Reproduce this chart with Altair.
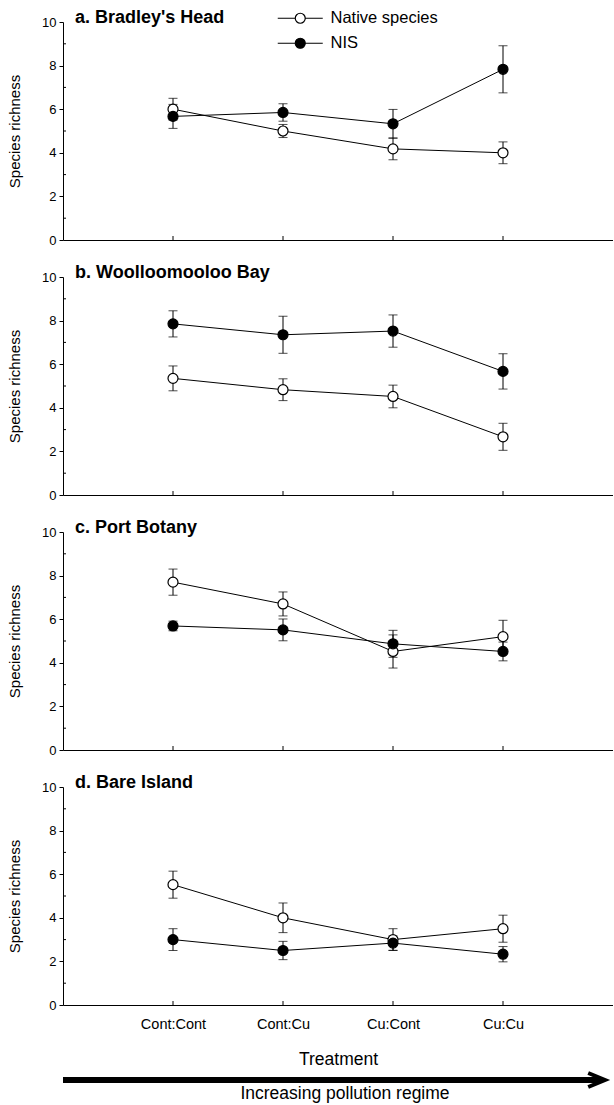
import altair as alt
import pandas as pd

treatments = ["Cont:Cont", "Cont:Cu", "Cu:Cont", "Cu:Cu"]
positions = [1, 2, 3, 4]
site_titles = ["a. Bradley's Head", "b. Woolloomooloo Bay", "c. Port Botany", "d. Bare Island"]
series_names = ["Native species", "NIS"]

# means and standard errors
native_a = [6.0, 5.0, 4.18, 4.0]
native_a_se = [0.5, 0.3, 0.5, 0.5]
nis_a = [5.67, 5.85, 5.33, 7.83]
nis_a_se = [0.55, 0.4, 0.66, 1.08]

native_b = [5.35, 4.83, 4.52, 2.67]
native_b_se = [0.57, 0.5, 0.52, 0.62]
nis_b = [7.85, 7.35, 7.52, 5.67]
nis_b_se = [0.6, 0.85, 0.74, 0.81]

native_c = [7.7, 6.7, 4.52, 5.2]
native_c_se = [0.6, 0.55, 0.76, 0.75]
nis_c = [5.69, 5.51, 4.87, 4.52]
nis_c_se = [0.22, 0.5, 0.62, 0.43]

native_d = [5.52, 4.0, 3.0, 3.5]
native_d_se = [0.62, 0.68, 0.5, 0.62]
nis_d = [3.0, 2.5, 2.84, 2.33]
nis_d_se = [0.5, 0.42, 0.33, 0.35]

major_y = [0, 2, 4, 6, 8, 10]
minor_y = [1, 3, 5, 7, 9]

panels = [
    (native_a, native_a_se, nis_a, nis_a_se),
    (native_b, native_b_se, nis_b, nis_b_se),
    (native_c, native_c_se, nis_c, nis_c_se),
    (native_d, native_d_se, nis_d, nis_d_se),
]

W = 550
H = 218
FONT = "Liberation Sans"

legend_symbol = "M-4.5,0L-1,0M1,0L4.5,0M1,0A1,1,0,1,1,-1,0A1,1,0,1,1,1,0Z"
no_view = alt.ViewBackground(stroke="transparent", strokeWidth=0)


def make_panel(i):
    nat, nat_se, nis, nis_se = panels[i]
    rows = []
    for name, means, ses in ((series_names[0], nat, nat_se), (series_names[1], nis, nis_se)):
        for p, t, m, s in zip(positions, treatments, means, ses):
            rows.append({"series": name, "pos": p, "treatment": t, "mean": m,
                         "lo": m - s, "hi": m + s})
    df = pd.DataFrame(rows)
    last = i == 3

    xaxis = alt.Axis(
        values=positions,
        labelExpr="['', 'Cont:Cont', 'Cont:Cu', 'Cu:Cont', 'Cu:Cu'][datum.value]",
        labels=last, ticks=False, tickSize=0, grid=False,
        title="Treatment" if last else None,
        labelFontSize=14.5, labelPadding=12, titleFontSize=17.5, titleFontWeight="normal",
        titlePadding=20, domainColor="black", labelColor="black", titleColor="black",
        labelFont=FONT, titleFont=FONT,
    )
    yaxis = alt.Axis(
        values=major_y, tickSize=4, grid=False, title="Species richness",
        labelFontSize=13, labelPadding=3, titleFontSize=15, titleFontWeight="normal",
        titlePadding=19, domainColor="black", tickColor="black", labelColor="black",
        titleColor="black", labelFont=FONT, titleFont=FONT,
    )
    xs = alt.Scale(domain=[0, 5], nice=False, zero=False)
    ys = alt.Scale(domain=[0, 10], nice=False)
    base = alt.Chart(df)

    bars = base.mark_rule(color="black", strokeWidth=1).encode(
        x=alt.X("pos:Q", scale=xs, axis=xaxis),
        y=alt.Y("lo:Q", scale=ys, axis=yaxis),
        y2="hi:Q",
    )
    caps_lo = base.mark_tick(color="black", orient="horizontal", size=9, thickness=1).encode(
        x=alt.X("pos:Q", scale=xs), y=alt.Y("lo:Q", scale=ys))
    caps_hi = base.mark_tick(color="black", orient="horizontal", size=9, thickness=1).encode(
        x=alt.X("pos:Q", scale=xs), y=alt.Y("hi:Q", scale=ys))
    lines = base.mark_line(color="black", strokeWidth=1).encode(
        x=alt.X("pos:Q", scale=xs), y=alt.Y("mean:Q", scale=ys), detail="series:N")
    legend = None
    if i == 0:
        legend = alt.Legend(
            title=None, orient="none", legendX=229, legendY=-12, padding=0,
            symbolType=legend_symbol, symbolSize=100, symbolStrokeColor="black",
            symbolStrokeWidth=1.2, labelOffset=22, labelFontSize=16.5, labelFont=FONT,
            labelColor="black", rowPadding=8, labelLimit=300,
        )
    points = base.mark_point(shape="circle", filled=True, size=100, stroke="black",
                             strokeWidth=1.2, opacity=1).encode(
        x=alt.X("pos:Q", scale=xs), y=alt.Y("mean:Q", scale=ys),
        fill=alt.Fill("series:N", scale=alt.Scale(domain=series_names, range=["white", "black"]),
                      legend=legend),
        order=alt.Order("order:Q"),
    ).transform_calculate(order="datum.series == 'NIS' ? 1 : 0")

    minor = alt.Chart(pd.DataFrame({"v": minor_y})).mark_rule(color="black", strokeWidth=1).encode(
        y=alt.Y("v:Q", scale=ys), x=alt.value(0), x2=alt.value(3))
    xticks = alt.Chart(pd.DataFrame({"p": positions})).mark_rule(color="black", strokeWidth=1).encode(
        x=alt.X("p:Q", scale=xs), y=alt.value(H), y2=alt.value(H - 4))
    title = alt.Chart(pd.DataFrame({"t": [site_titles[i]]})).mark_text(
        align="left", baseline="alphabetic", font=FONT, fontSize=18, fontWeight="bold",
        color="black").encode(text="t:N", x=alt.value(12), y=alt.value(1))

    layers = [bars, caps_lo, caps_hi, lines, points, minor, xticks, title]
    if last:
        arrow_line = alt.Chart(pd.DataFrame({"a": [0]})).mark_rule(
            color="black", strokeWidth=6).encode(
            x=alt.value(0), x2=alt.value(540), y=alt.value(H + 75))
        arrow_head = alt.Chart(pd.DataFrame({"a": [0]})).mark_point(
            shape="M-2.4,-1L0,0L-2.4,1", size=196, filled=False, stroke="black",
            strokeWidth=4, opacity=1).encode(x=alt.value(542), y=alt.value(H + 75))
        arrow_text = alt.Chart(pd.DataFrame({"t": ["Increasing pollution regime"]})).mark_text(
            align="center", baseline="alphabetic", font=FONT, fontSize=17.5,
            color="black").encode(text="t:N", x=alt.value(282), y=alt.value(H + 94))
        layers += [arrow_line, arrow_head, arrow_text]
    return alt.layer(*layers).properties(width=W, height=H, view=no_view)


chart = alt.vconcat(*[make_panel(i) for i in range(4)], spacing=37, bounds="flush").properties(
    padding={"left": 7, "top": 9, "right": 0, "bottom": 0}
).resolve_legend(fill="independent").configure_view(stroke="transparent", strokeWidth=0).configure(
    background="white"
)

chart.save("out.html", embed_options={"renderer": "svg", "actions": False})
